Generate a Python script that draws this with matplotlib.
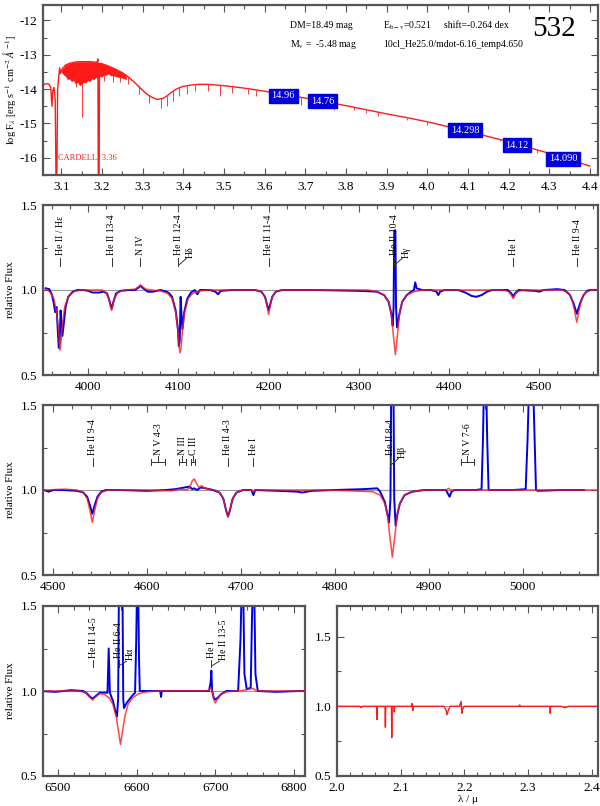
import numpy as np
import matplotlib
matplotlib.use('Agg')
import matplotlib.pyplot as plt
from matplotlib.ticker import MultipleLocator, FormatStrFormatter

plt.rcParams['font.family'] = ['Liberation Serif', 'DejaVu Serif']
plt.rcParams['mathtext.fontset'] = 'stix'
plt.rcParams['axes.unicode_minus'] = False

### SED (top panel): log lambda [A] vs log F_lambda ###
sed_logw = [3.052, 3.054, 3.056, 3.06, 3.065, 3.07, 3.074, 3.077, 3.079, 3.082, 3.085, 3.087,
            3.089, 3.091, 3.094, 3.096, 3.098, 3.1, 3.11, 3.12, 3.13, 3.14, 3.15, 3.16, 3.17,
            3.18, 3.188, 3.19, 3.191, 3.193, 3.194, 3.2, 3.21, 3.22, 3.23, 3.24, 3.25, 3.26,
            3.27, 3.28, 3.29, 3.3, 3.31, 3.32, 3.335, 3.35, 3.36, 3.37, 3.38, 3.39, 3.4, 3.42,
            3.44, 3.46, 3.48, 3.5, 3.55, 3.6, 3.65, 3.7, 3.75, 3.8, 3.85, 3.9, 3.95, 4.0, 4.05,
            4.1, 4.15, 4.2, 4.25, 4.3, 4.35, 4.4]
sed_flux = [-13.95, -14.7, -13.88, -13.85, -13.84, -13.86, -13.95, -14.5, -14.05, -13.95, -14.3, -16.6,
            -16.6, -14.0, -13.6, -13.38, -13.55, -13.45, -13.3, -13.25, -13.22, -13.2, -13.2, -13.2, -13.2,
            -13.21, -13.22, -13.12, -16.6, -16.6, -13.25, -13.26, -13.3, -13.35, -13.4, -13.46, -13.52, -13.6,
            -13.7, -13.8, -13.92, -14.03, -14.14, -14.22, -14.3, -14.27, -14.2, -14.1, -14.02, -13.96, -13.92, -13.88,
            -13.86, -13.86, -13.88, -13.9, -13.97, -14.06, -14.16, -14.26, -14.37, -14.48, -14.6, -14.72, -14.83, -14.95, -15.09,
            -15.23, -15.38, -15.53, -15.7, -15.87, -16.05, -16.24]
# dense line forest in the UV: upper and lower envelope
forest_logw = [3.1, 3.105, 3.11, 3.115, 3.12, 3.125, 3.13, 3.135, 3.14, 3.145, 3.15, 3.155, 3.16, 3.165,
               3.17, 3.175, 3.18, 3.185, 3.188, 3.195, 3.2, 3.205, 3.21, 3.215, 3.22, 3.23, 3.24, 3.25, 3.26]
forest_top = [-13.45, -13.37, -13.3, -13.27, -13.25, -13.23, -13.22, -13.21, -13.2, -13.2, -13.2, -13.2, -13.2, -13.2,
              -13.2, -13.2, -13.21, -13.21, -13.22, -13.25, -13.26, -13.28, -13.3, -13.32, -13.35, -13.4, -13.46, -13.52, -13.6]
forest_bot = [-13.5, -13.58, -13.62, -13.72, -13.7, -13.78, -13.75, -13.85, -13.8, -13.9, -13.85, -13.8, -13.82, -13.75,
              -13.78, -13.7, -13.72, -13.66, -13.7, -13.62, -13.65, -13.58, -13.6, -13.55, -13.6, -13.62, -13.65, -13.68, -13.72]
# individual absorption lines
abs_logw = [3.135, 3.152, 3.205, 3.228, 3.245, 3.265, 3.29, 3.315, 3.345, 3.36, 3.375, 3.39, 3.41, 3.43,
            3.46, 3.49, 3.52, 3.56, 3.58, 3.62, 3.66, 3.69, 3.72, 3.77, 3.82, 3.85, 3.88, 3.95, 4.0,
            4.06, 4.1, 4.12, 4.18, 4.27]
abs_top = [-13.2, -13.2, -13.28, -13.39, -13.46, -13.65, -13.92, -14.18, -14.29, -14.2, -14.05, -13.96, -13.91, -13.88,
           -13.86, -13.89, -13.92, -13.99, -14.03, -14.1, -14.18, -14.24, -14.3, -14.41, -14.53, -14.6, -14.67, -14.83, -14.95,
           -15.12, -15.23, -15.29, -15.47, -15.77]
abs_bot = [-13.95, -14.8, -13.75, -13.8, -13.8, -13.85, -14.15, -14.4, -14.55, -14.5, -14.35, -14.2, -14.15, -14.05,
           -14.05, -14.2, -14.1, -14.15, -14.2, -14.3, -14.35, -14.45, -14.5, -14.6, -14.6, -14.7, -14.78, -14.9, -15.05,
           -15.2, -15.35, -15.35, -15.5, -15.85]
phot_logw = [3.646, 3.742, 4.093, 4.221, 4.334]
phot_flux = [-14.19, -14.35, -15.2, -15.63, -16.03]
phot_mag = ['14.96', '14.76', '14.298', '14.12', '14.090']

### normalized spectra: blue = observation, red = model ###
obs2_w = [3953, 3957, 3960, 3962, 3963.5, 3965, 3966.5, 3967.5, 3968.5, 3969.5, 3970.5, 3971.5, 3973, 3975, 3978,
          3983, 3988, 3995, 4000, 4005, 4012, 4017, 4021, 4024, 4026, 4028, 4031, 4036, 4045, 4052, 4056, 4058,
          4061, 4066, 4072, 4080, 4087, 4090, 4093, 4097, 4099.5, 4100.5, 4101.5, 4102.5, 4103.5, 4104.5, 4106.5,
          4110, 4114, 4118, 4121, 4124, 4135, 4141, 4144, 4147, 4160, 4185, 4192, 4196, 4198.5, 4200, 4201.5, 4204,
          4208, 4215, 4250, 4300, 4320, 4328, 4333, 4336, 4337.5, 4338.5, 4339.2, 4340.5, 4341.2, 4342.3, 4345,
          4348, 4353, 4358, 4361, 4362.5, 4364, 4370, 4380, 4386, 4388, 4390, 4395, 4410, 4418, 4425, 4430, 4436,
          4442, 4448, 4465, 4469, 4471, 4473, 4477, 4495, 4500, 4505, 4520, 4528, 4534, 4538, 4541.5, 4545, 4549,
          4553, 4556, 4565]
obs2_f = [1.01, 1.005, 0.97, 0.92, 0.87, 0.9, 0.75, 0.66, 0.7, 0.88, 0.8, 0.73, 0.8, 0.9, 0.96,
          0.99, 1.0, 1.0, 0.995, 0.985, 0.985, 0.99, 0.98, 0.93, 0.89, 0.93, 0.98, 0.995, 1.0, 1.0, 1.015, 1.025,
          1.01, 0.99, 0.99, 1.0, 0.99, 0.98, 0.96, 0.88, 0.77, 0.67, 0.7, 0.96, 0.85, 0.77, 0.87,
          0.95, 0.985, 1.0, 0.975, 1.0, 1.0, 0.99, 0.975, 0.995, 1.0, 1.0, 0.99, 0.96, 0.91, 0.88, 0.91, 0.96,
          0.99, 1.0, 1.0, 0.995, 0.99, 0.97, 0.93, 0.86, 0.79, 0.9, 1.35, 1.35, 0.9, 0.78, 0.86,
          0.93, 0.97, 0.99, 1.0, 1.045, 1.01, 1.0, 1.0, 0.99, 0.97, 0.99, 1.0, 1.0, 0.985, 0.965, 0.96, 0.97,
          0.99, 1.0, 1.0, 0.98, 0.96, 0.98, 1.0, 0.995, 0.99, 1.0, 1.005, 1.0, 0.97, 0.92, 0.86, 0.92, 0.97,
          0.995, 1.0, 1.0]
mod2_w = [3950, 3955, 3958, 3962, 3965, 3967, 3968.5, 3969, 3970, 3971.5, 3974, 3978, 3984, 3992, 4015, 4020,
          4023, 4025, 4026, 4027, 4029, 4033, 4040, 4052, 4056, 4058, 4060, 4064, 4070, 4080, 4088, 4093, 4097,
          4099.5, 4101, 4102, 4103, 4104.5, 4107, 4111, 4116, 4124, 4135, 4185, 4192, 4196, 4198.5, 4200, 4201.5,
          4204, 4208, 4215, 4310, 4320, 4328, 4333, 4336, 4338.5, 4340.5, 4342.5, 4345, 4348, 4353, 4361, 4372,
          4460, 4466, 4469, 4471, 4473, 4476, 4482, 4525, 4532, 4536, 4539, 4541.5, 4544, 4547, 4551, 4558, 4565]
mod2_f = [1.0, 1.0, 0.985, 0.95, 0.87, 0.78, 0.66, 0.648, 0.7, 0.8, 0.9, 0.96, 0.99, 1.0, 1.0, 0.985,
          0.95, 0.9, 0.88, 0.9, 0.95, 0.985, 1.0, 1.005, 1.02, 1.03, 1.02, 1.005, 1.0, 0.995, 0.98, 0.95, 0.87,
          0.76, 0.66, 0.63, 0.66, 0.76, 0.87, 0.95, 0.98, 0.995, 1.0, 1.0, 0.99, 0.96, 0.9, 0.855, 0.9,
          0.96, 0.99, 1.0, 1.0, 0.99, 0.97, 0.93, 0.86, 0.72, 0.62, 0.72, 0.86, 0.93, 0.97, 0.99, 1.0,
          1.0, 0.99, 0.97, 0.95, 0.97, 0.99, 1.0, 1.0, 0.985, 0.95, 0.88, 0.81, 0.88, 0.95, 0.985, 1.0, 1.0]

obs3_w = [4490, 4495, 4500, 4510, 4525, 4532, 4536, 4539, 4541.5, 4544, 4547, 4551, 4556, 4570, 4600, 4620,
          4630, 4640, 4645, 4648, 4650, 4653, 4657, 4662, 4670, 4677, 4681, 4684, 4686, 4688, 4691, 4695, 4702,
          4711, 4713, 4715, 4740, 4760, 4765, 4775, 4800, 4830, 4845, 4848, 4853, 4856, 4857.5, 4859, 4859.8,
          4862.2, 4863, 4864.5, 4866.5, 4869, 4874, 4882, 4895, 4918, 4920.5, 4922, 4924, 4927, 4950, 4956,
          4957.5, 4958.5, 4961, 4962, 4963.5, 4990, 5003, 5005, 5006.5, 5011, 5012.5, 5014, 5016, 5040, 5065]
obs3_f = [1.0, 0.99, 1.0, 1.0, 0.995, 0.985, 0.96, 0.91, 0.86, 0.91, 0.96, 0.99, 1.0, 1.0, 0.995, 1.0,
          1.005, 1.015, 1.02, 1.005, 1.01, 1.0, 1.015, 1.01, 1.0, 0.985, 0.95, 0.88, 0.845, 0.88, 0.95, 0.985, 1.0,
          1.0, 0.97, 1.0, 0.995, 0.99, 0.985, 0.995, 1.0, 1.005, 1.01, 0.99, 0.93, 0.85, 0.81, 0.95, 1.6,
          1.6, 0.95, 0.79, 0.86, 0.92, 0.97, 0.99, 1.0, 1.0, 0.975, 0.96, 0.99, 1.0, 1.0, 1.005,
          1.3, 1.6, 1.6, 1.3, 1.0, 1.0, 1.005, 1.3, 1.6, 1.6, 1.3, 1.0, 0.995, 1.0, 1.0]
mod3_w = [4490, 4512, 4525, 4532, 4536, 4539, 4541.5, 4544, 4547, 4551, 4558, 4600, 4625, 4635, 4641, 4645,
          4648, 4650, 4652.5, 4655, 4658, 4661, 4666, 4672, 4677, 4681, 4684, 4686, 4688, 4691, 4695, 4702,
          4711, 4713, 4715, 4790, 4840, 4848, 4853, 4856, 4858.5, 4861, 4863.5, 4866, 4869, 4874, 4882, 4895,
          4918, 4921, 4923, 5080]
mod3_f = [1.0, 1.005, 1.0, 0.985, 0.95, 0.88, 0.81, 0.88, 0.95, 0.985, 1.0, 1.0, 0.995, 1.005, 1.0, 1.01,
          1.055, 1.065, 1.04, 1.015, 1.025, 1.01, 1.005, 1.0, 0.985, 0.95, 0.88, 0.84, 0.88, 0.95, 0.985, 1.0,
          1.0, 0.99, 1.0, 1.0, 0.99, 0.97, 0.92, 0.85, 0.72, 0.605, 0.72, 0.85, 0.92, 0.97, 0.99, 1.0,
          1.0, 1.01, 1.0, 1.0]

# H alpha panel, wavelengths
obs4_w = [6477, 6497, 6517, 6532, 6537, 6541, 6544, 6548, 6553, 6559, 6563, 6564.5, 6566, 6570, 6573, 6575,
          6576.5, 6577.5, 6582, 6583, 6584, 6586, 6589, 6594, 6598, 6599.5, 6600.5, 6602, 6603, 6604, 6617,
          6630, 6631, 6632, 6657, 6677, 6692, 6694, 6695, 6696, 6698, 6700, 6703, 6707, 6714, 6729, 6732,
          6733.5, 6735.5, 6737, 6740, 6745, 6746.5, 6747.5, 6749.5, 6751, 6754, 6777, 6807, 6830]
obs4_f = [1.0, 0.995, 1.005, 1.0, 0.985, 0.965, 0.955, 0.97, 0.99, 0.99, 0.99, 1.25, 0.99, 0.94, 0.88, 0.85,
          0.95, 1.6, 1.6, 0.95, 0.9, 0.92, 0.94, 0.97, 0.99, 1.3, 1.6, 1.6, 1.2, 1.0, 1.0,
          1.0, 0.965, 1.0, 1.0, 1.0, 1.0, 1.05, 1.12, 1.0, 0.96, 0.95, 0.96, 0.98, 1.0, 1.0, 1.3,
          1.6, 1.6, 1.1, 1.01, 1.02, 1.4, 1.6, 1.6, 1.1, 1.0, 0.995, 1.0, 1.0]
mod4_w = [6477, 6527, 6535, 6540, 6544, 6548, 6553, 6559, 6565, 6570, 6574, 6577, 6579.5, 6582, 6585, 6589,
          6595, 6603, 6613, 6627, 6687, 6692, 6694.5, 6696, 6698, 6700, 6702.5, 6707, 6714, 6727, 6737, 6748,
          6752, 6830]
mod4_f = [1.0, 1.0, 0.99, 0.965, 0.947, 0.965, 0.985, 0.98, 0.96, 0.92, 0.85, 0.76, 0.686, 0.76, 0.85, 0.92,
          0.96, 0.985, 0.995, 1.0, 1.0, 1.005, 1.02, 1.0, 0.95, 0.93, 0.95, 0.98, 0.995, 1.0, 1.005, 1.015,
          1.0, 1.0]

mod5_w = [2.0, 2.036, 2.038, 2.04, 2.0625, 2.063, 2.0635, 2.0755, 2.076, 2.0765, 2.0855, 2.086, 2.0865,
          2.0895, 2.09, 2.0905, 2.117, 2.118, 2.119, 2.12, 2.168, 2.171, 2.173, 2.175, 2.178, 2.192, 2.195,
          2.196, 2.197, 2.199, 2.2, 2.286, 2.287, 2.288, 2.3345, 2.335, 2.3355, 2.352, 2.358, 2.364, 2.42]
mod5_f = [1.0, 1.0, 0.99, 1.0, 1.0, 0.905, 1.0, 1.0, 0.85, 1.0, 1.0, 0.775, 1.0,
          1.0, 0.96, 1.0, 1.0, 1.02, 0.97, 1.0, 1.0, 0.975, 0.94, 0.975, 1.0, 1.0, 1.035,
          0.95, 0.975, 0.995, 1.0, 1.0, 1.01, 1.0, 1.0, 0.95, 1.0, 1.0, 0.99, 1.0, 1.0]

### line identifications ###
ids2 = [(3969, 'He II / H\u03b5'), (4026, 'He II 13-4'), (4058, 'N IV'), (4100, 'He II 12-4'),
        (4200, 'He II 11-4'), (4339, 'He II 10-4'), (4471, 'He I'), (4542, 'He II 9-4')]
ids2_pair = [(4100, 'H\u03b4'), (4339, 'H\u03b3')]
ids3 = [(4542, 'He II 9-4'), (4686, 'He II 4-3'), (4713, 'He I'), (4859, 'He II 8-4')]
ids3_pair = [(4859, 'H\u03b2')]
ids3_group = [(4604, 4619, 'N V 4-3'), (4634, 4641, 'N III'), (4647, 4651, 'C III'), (4934, 4948, 'N V 7-6')]
ids4 = [(6545, 'He II 14-5'), (6577, 'He II 6-4'), (6695, 'He I')]
ids4_pair = [(6577, 'H\u03b1'), (6695, 'He II 13-5')]

BLUE = '#0000e6'
RED = '#ff1a1a'
FRAME = '#555555'
W, H = 600, 806

fig = plt.figure(figsize=(W / 100, H / 100), dpi=100)


def make_axes(left, top, right, bottom):
    return fig.add_axes([left / W, 1 - bottom / H, (right - left) / W, (bottom - top) / H])


def style(ax, xmaj, xmin, ymaj, ymin):
    ax.xaxis.set_major_locator(MultipleLocator(xmaj))
    ax.xaxis.set_minor_locator(MultipleLocator(xmin))
    ax.yaxis.set_major_locator(MultipleLocator(ymaj))
    ax.yaxis.set_minor_locator(MultipleLocator(ymin))
    ax.tick_params(which='both', direction='in', top=True, right=True, color=FRAME, labelsize=9.5)
    ax.tick_params(which='major', length=5, width=0.8, pad=4)
    ax.tick_params(which='minor', length=3, width=0.8)
    for s in ax.spines.values():
        s.set_color(FRAME)
        s.set_linewidth(1.6)


def px(ax, n):
    # n pixels expressed in x data units
    x0, x1 = ax.get_xlim()
    return n * (x1 - x0) / (ax.get_position().width * W)


def spectrum(ax, ow, of, mw, mf):
    ax.axhline(1.0, color='#999999', lw=0.8, zorder=1)
    ax.plot(ow, of, color=BLUE, lw=1.4, zorder=2)
    ax.plot(mw, mf, color=RED, lw=1.1, alpha=0.8, zorder=3)
    ax.set_ylabel('relative Flux', fontsize=8, labelpad=4)


def idents(ax, single, pair=(), group=(), y0=1.14, y1=1.19):
    kw = dict(rotation=90, ha='center', va='bottom', fontsize=7)
    for lam, txt in single:
        ax.plot([lam, lam], [y0, y1], color='#333333', lw=0.7)
        ax.text(lam, y1 + 0.015, txt, **kw)
    for lam, txt in pair:
        ax.plot([lam + px(ax, 1), lam + px(ax, 8)], [y0 + 0.01, y1 - 0.005], color='#333333', lw=0.7)
        ax.text(lam + px(ax, 12), y1 + 0.0, txt, **kw)
    for la, lb, txt in group:
        ym = (y0 + y1) / 2
        ax.plot([la, lb], [ym, ym], color='#333333', lw=0.7)
        ax.plot([la, la], [y0 + 0.005, y1 - 0.005], color='#333333', lw=0.7)
        ax.plot([lb, lb], [y0 + 0.005, y1 - 0.005], color='#333333', lw=0.7)
        ax.plot([(la + lb) / 2] * 2, [ym, y1 + 0.01], color='#333333', lw=0.7)
        ax.text((la + lb) / 2, y1 + 0.015, txt, **kw)


# --- top: SED ---
ax1 = make_axes(43, 5, 598, 175)
ax1.set_xlim(3.055, 4.42)
ax1.set_ylim(-16.5, -11.55)
style(ax1, 0.1, 0.05, 1, 0.5)
ax1.xaxis.set_major_formatter(FormatStrFormatter('%.1f'))
ax1.fill_between(forest_logw, forest_bot, forest_top, color=RED, lw=0)
ax1.vlines(abs_logw, abs_bot, abs_top, color=RED, lw=0.6)
ax1.plot(sed_logw, sed_flux, color=RED, lw=1.0)
for x, y, m in zip(phot_logw, phot_flux, phot_mag):
    ax1.text(x, y, m, ha='center', va='center', color='white', fontsize=7.5,
             bbox=dict(boxstyle='square,pad=0.25', fc='#0000dd', ec='#0000dd'))
ax1.set_ylabel(r'log F$_\lambda$ [erg s$^{-1}$ cm$^{-2}$ $\AA^{-1}$]', fontsize=7.5, labelpad=1)
ax1.text(3.092, -16.0, 'CARDELLI 3.36', color=RED, fontsize=6, va='center')
ax1.text(3.662, -12.15, 'DM=18.49 mag', fontsize=7, va='center')
ax1.text(3.891, -12.15, r'E$_{\rm b-v}$=0.521', fontsize=7, va='center')
ax1.text(4.041, -12.15, 'shift=-0.264 dex', fontsize=7, va='center')
ax1.text(3.662, -12.71, r'M$_{\rm v}$ =  -5.48 mag', fontsize=7, va='center')
ax1.text(3.891, -12.71, '10cl_He25.0/mdot-6.16_temp4.650', fontsize=7, va='center')
ax1.text(4.258, -12.25, '532', fontsize=21, va='center')

# --- blue spectrum 3950-4560 ---
ax2 = make_axes(43, 205, 598, 375)
ax2.set_xlim(3950, 4565)
ax2.set_ylim(0.5, 1.5)
style(ax2, 100, 20, 0.5, 0.25)
spectrum(ax2, obs2_w, obs2_f, mod2_w, mod2_f)
idents(ax2, ids2, ids2_pair)

# --- 4490-5080 ---
ax3 = make_axes(43, 405, 598, 575)
ax3.set_xlim(4489, 5080)
ax3.set_ylim(0.5, 1.5)
style(ax3, 100, 20, 0.5, 0.25)
spectrum(ax3, obs3_w, obs3_f, mod3_w, mod3_f)
idents(ax3, ids3, ids3_pair, ids3_group)

# --- H alpha region ---
ax4 = make_axes(43, 606, 305, 776)
ax4.set_xlim(6481, 6814)
ax4.set_ylim(0.5, 1.5)
style(ax4, 100, 20, 0.5, 0.25)
spectrum(ax4, obs4_w, obs4_f, mod4_w, mod4_f)
idents(ax4, ids4, ids4_pair, y0=1.14, y1=1.18)

# --- K band ---
ax5 = make_axes(337, 606, 598, 776)
ax5.set_xlim(2.0, 2.41)
ax5.set_ylim(0.5, 1.72)
style(ax5, 0.1, 0.02, 0.5, 0.25)
ax5.xaxis.set_major_formatter(FormatStrFormatter('%.1f'))
ax5.axhline(1.0, color='#999999', lw=0.8)
ax5.plot(mod5_w, mod5_f, color=RED, lw=1.0)
ax5.set_xlabel('\u03bb / \u03bc', fontsize=8, labelpad=1)

fig.savefig('out.png', dpi=100)
